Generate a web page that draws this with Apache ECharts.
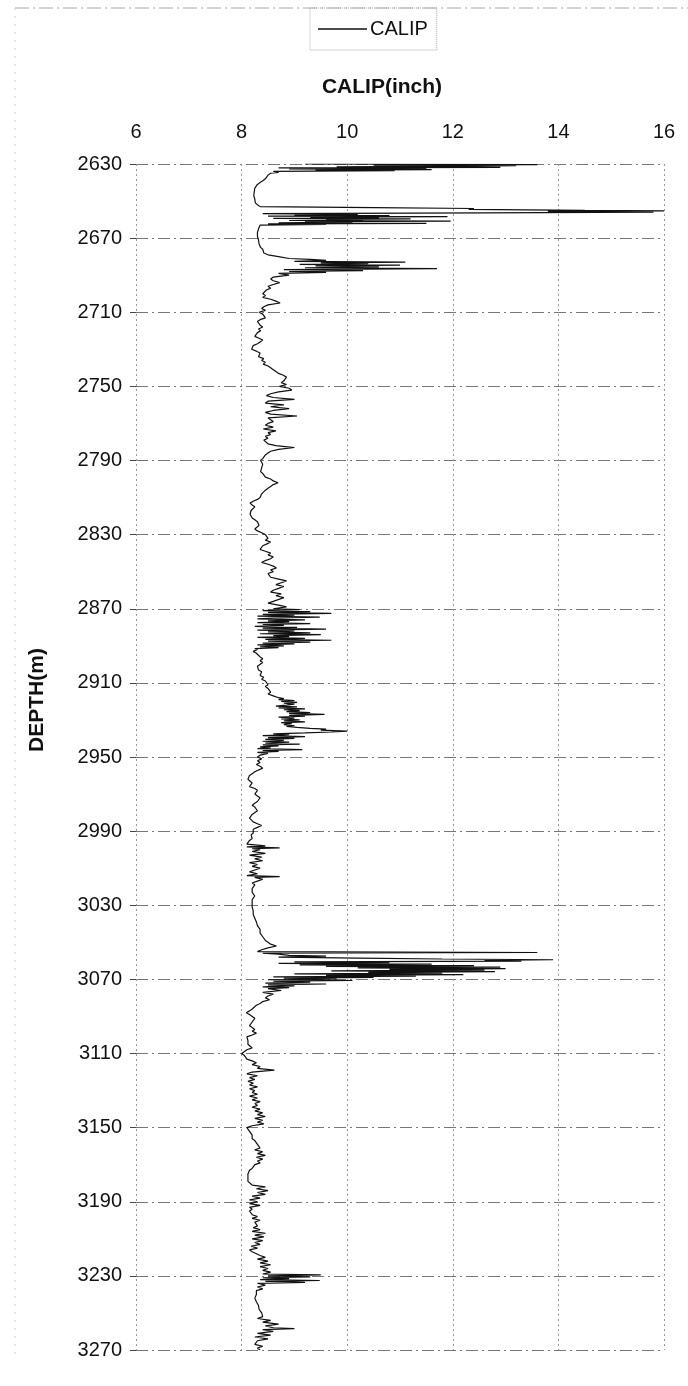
<!DOCTYPE html>
<html>
<head>
<meta charset="utf-8">
<title>CALIP log</title>
<script src="https://cdn.jsdelivr.net/npm/echarts@6/dist/echarts.min.js"></script>
<style>
  html, body { margin: 0; padding: 0; background: #fff; }
  #chart { width: 688px; height: 1386px; }
</style>
</head>
<body>
<div id="chart"></div>
<script>
// caliper readings, [depth(m), CALIP(inch)]
const zoneTop = [
  [2630.0, 9.2], [2630.3, 13.6], [2630.6, 10.5], [2630.9, 13.2], [2631.2, 12.4], [2631.5, 9.8],
  [2631.8, 12.9], [2632.1, 8.7], [2632.4, 11.5], [2632.7, 8.9], [2633.0, 11.6], [2633.3, 9.4],
  [2633.6, 10.9], [2634.0, 8.6], [2634.5, 8.7], [2635, 8.55], [2636, 8.5], [2637, 8.52], [2638, 8.45],
  [2639, 8.4], [2640, 8.35], [2641, 8.3], [2642, 8.28], [2643, 8.25], [2644, 8.22], [2645, 8.24],
  [2646, 8.22], [2647, 8.23], [2648, 8.22], [2649, 8.25], [2650, 8.24], [2651, 8.26], [2652, 8.3],
  [2653, 8.35], [2653.5, 10.5], [2654, 12.4], [2654.5, 12.3], [2655, 14.5], [2655.3, 16.0],
  [2655.6, 13.8], [2656, 15.8], [2656.4, 12.6], [2656.8, 8.4], [2657.2, 10.2], [2657.5, 9.0],
  [2657.8, 10.8], [2658.1, 8.5], [2658.4, 11.9], [2658.7, 9.3], [2659, 10.6], [2659.3, 8.6],
  [2659.6, 11.2], [2659.9, 9.6], [2660.2, 10.3], [2660.5, 8.9], [2660.8, 11.96], [2661.1, 9.2],
  [2661.4, 10.1], [2661.7, 8.7], [2662, 11.5], [2662.3, 8.5], [2662.6, 9.6], [2663, 8.35],
  [2664, 8.35], [2665, 8.32], [2666, 8.3], [2667, 8.3], [2668, 8.28], [2669, 8.3], [2670, 8.3],
  [2671, 8.32], [2672, 8.3], [2673, 8.33], [2674, 8.35], [2675, 8.36], [2676, 8.4], [2677, 8.38],
  [2678, 8.42], [2679, 8.5], [2680, 8.7], [2681, 8.9], [2681.5, 9.3], [2682, 9.6], [2682.5, 9.0],
  [2683, 11.1], [2683.4, 9.5], [2683.8, 10.4], [2684.2, 9.1], [2684.6, 11.0], [2685, 9.4],
  [2685.5, 10.6], [2686, 9.2], [2686.5, 11.7], [2687, 8.8], [2687.5, 10.3], [2688, 8.9],
  [2688.5, 9.6], [2689, 8.7]
];

const zoneUpper = [
  [2690, 8.9], [2691, 8.6], [2692, 8.55], [2693, 8.6], [2694, 8.72], [2695, 8.6], [2696, 8.5],
  [2697, 8.55], [2698, 8.47], [2699, 8.5], [2700, 8.4], [2701, 8.45], [2702, 8.4], [2703, 8.55],
  [2704, 8.65], [2705, 8.73], [2706, 8.5], [2707, 8.42], [2708, 8.38], [2709, 8.45], [2710, 8.33],
  [2711, 8.4], [2712, 8.38], [2713, 8.45], [2714, 8.35], [2715, 8.3], [2716, 8.28], [2717, 8.35],
  [2718, 8.4], [2719, 8.32], [2720, 8.36], [2721, 8.3], [2722, 8.28], [2723, 8.25], [2724, 8.33],
  [2725, 8.4], [2726, 8.35], [2727, 8.3], [2728, 8.22], [2729, 8.2], [2730, 8.19], [2731, 8.28],
  [2732, 8.35], [2733, 8.38], [2734, 8.32], [2735, 8.42], [2736, 8.38], [2737, 8.45], [2738, 8.41],
  [2739, 8.5], [2740, 8.55], [2741, 8.6], [2742, 8.65], [2743, 8.7], [2744, 8.79], [2745, 8.85],
  [2746, 8.88], [2747, 8.8], [2748, 8.75], [2749, 8.85], [2750, 8.72], [2751, 8.9], [2752, 8.95],
  [2753, 8.7], [2754, 8.55], [2755, 8.47], [2756, 8.6], [2757, 9.0], [2758, 8.5], [2759, 8.45],
  [2760, 8.8], [2761, 8.55], [2762, 8.9], [2763, 8.6], [2764, 8.45], [2765, 8.55], [2766, 9.05],
  [2767, 8.5], [2768, 8.55], [2769, 8.6], [2770, 8.5], [2771, 8.45], [2772, 8.6], [2773, 8.41],
  [2774, 8.65], [2775, 8.5], [2776, 8.55], [2777, 8.45], [2778, 8.5], [2779, 8.42], [2780, 8.4],
  [2781, 8.5], [2782, 8.65], [2783, 9.0], [2784, 8.7], [2785, 8.55], [2786, 8.5], [2787, 8.45],
  [2788, 8.43], [2789, 8.4], [2790, 8.36], [2791, 8.35], [2792, 8.4], [2793, 8.42], [2794, 8.38],
  [2795, 8.4], [2796, 8.36], [2797, 8.4], [2798, 8.38], [2799, 8.45], [2800, 8.55], [2801, 8.6],
  [2802, 8.69], [2803, 8.6], [2804, 8.55], [2805, 8.5], [2806, 8.45], [2807, 8.42], [2808, 8.38],
  [2809, 8.41], [2810, 8.35], [2811, 8.3], [2812, 8.22], [2813, 8.16], [2814, 8.2], [2815, 8.25],
  [2816, 8.22], [2817, 8.18], [2818, 8.2], [2819, 8.16], [2820, 8.15], [2821, 8.2], [2822, 8.25],
  [2823, 8.3], [2824, 8.28], [2825, 8.33], [2826, 8.3], [2827, 8.25], [2828, 8.3], [2829, 8.38],
  [2830, 8.45], [2831, 8.47], [2832, 8.5], [2833, 8.45], [2834, 8.55], [2835, 8.48], [2836, 8.4],
  [2837, 8.38], [2838, 8.35], [2839, 8.45], [2840, 8.55], [2841, 8.5], [2842, 8.6], [2843, 8.55],
  [2844, 8.45], [2845, 8.38], [2846, 8.5], [2847, 8.6], [2848, 8.66], [2849, 8.55], [2850, 8.6],
  [2851, 8.5], [2852, 8.47], [2853, 8.55], [2854, 8.7], [2855, 8.85], [2856, 8.75], [2857, 8.65],
  [2858, 8.8], [2859, 8.7], [2860, 8.6], [2861, 8.55], [2862, 8.75], [2863, 8.65], [2864, 8.8],
  [2865, 8.79], [2866, 8.6], [2867, 8.5], [2868, 8.7], [2869, 8.85], [2870, 8.6]
];

const zoneMiddle = [
  [2870.5, 9.1], [2871, 8.4], [2871.5, 9.3], [2872, 8.5], [2872.5, 9.7], [2873, 8.4], [2873.5, 9.0],
  [2874, 8.3], [2874.5, 9.48], [2875, 8.6], [2875.5, 8.3], [2876, 9.2], [2876.5, 8.5], [2877, 8.9],
  [2877.5, 8.3], [2878, 9.3], [2878.5, 8.4], [2879, 8.8], [2879.5, 8.25], [2880, 9.05], [2880.5, 8.4],
  [2881, 9.6], [2881.5, 8.3], [2882, 9.0], [2882.5, 8.5], [2883, 9.3], [2883.5, 8.35], [2884, 9.5],
  [2884.5, 8.6], [2885, 8.9], [2885.5, 8.3], [2886, 9.2], [2886.5, 8.45], [2887, 9.7], [2887.5, 8.5],
  [2888, 9.3], [2888.5, 8.4], [2889, 9.0], [2889.5, 8.3], [2890, 8.8], [2890.5, 8.35], [2891, 8.7],
  [2891.5, 8.25], [2892, 8.3], [2893, 8.22], [2894, 8.28], [2895, 8.3], [2896, 8.35], [2897, 8.4],
  [2898, 8.35], [2899, 8.4], [2900, 8.38], [2901, 8.3], [2902, 8.28], [2903, 8.32], [2904, 8.38],
  [2905, 8.4], [2906, 8.35], [2907, 8.42], [2908, 8.38], [2909, 8.45], [2910, 8.47], [2911, 8.5],
  [2912, 8.45], [2913, 8.5], [2914, 8.47], [2915, 8.55], [2916, 8.5], [2917, 8.6], [2918, 8.7],
  [2918.5, 8.8], [2919, 8.7], [2919.5, 9.0], [2920, 8.75], [2920.5, 9.05], [2921, 8.8], [2921.5, 9.0],
  [2922, 8.85], [2922.5, 8.65], [2923, 9.05], [2923.5, 8.7], [2924, 9.2], [2924.5, 8.8], [2925, 9.1],
  [2925.5, 8.85], [2926, 9.3], [2926.5, 8.9], [2927, 9.57], [2927.5, 8.9], [2928, 9.2], [2928.5, 8.7],
  [2929, 9.0], [2929.5, 8.75], [2930, 9.1], [2930.5, 8.8], [2931, 9.2], [2931.5, 8.75], [2932, 8.95],
  [2932.5, 8.8], [2933, 9.0], [2933.5, 8.85], [2934, 9.05], [2934.5, 9.3], [2935, 9.6], [2935.5, 9.5],
  [2936, 10.0], [2936.5, 9.7], [2937, 9.2], [2937.5, 8.6], [2938, 8.9], [2938.5, 8.4], [2939, 9.2],
  [2939.5, 8.5], [2940, 9.0], [2940.5, 8.45], [2941, 8.8], [2941.5, 8.4], [2942, 8.9], [2942.5, 8.45],
  [2943, 9.1], [2943.5, 8.4], [2944, 8.7], [2944.5, 8.35], [2945, 8.55], [2945.5, 8.3], [2946, 9.15],
  [2946.5, 8.4], [2947, 8.7], [2947.5, 8.3], [2948, 8.5]
];

const zoneLower = [
  [2949, 8.35], [2950, 8.3], [2951, 8.38], [2952, 8.3], [2953, 8.35], [2954, 8.28], [2955, 8.35],
  [2956, 8.4], [2957, 8.4], [2958, 8.25], [2959, 8.2], [2960, 8.15], [2961, 8.18], [2962, 8.12],
  [2963, 8.15], [2964, 8.2], [2965, 8.18], [2966, 8.15], [2967, 8.25], [2968, 8.3], [2969, 8.3],
  [2970, 8.25], [2971, 8.3], [2972, 8.35], [2973, 8.38], [2974, 8.3], [2975, 8.25], [2976, 8.2],
  [2977, 8.25], [2978, 8.28], [2979, 8.3], [2980, 8.28], [2981, 8.2], [2982, 8.18], [2983, 8.15],
  [2984, 8.15], [2985, 8.22], [2986, 8.3], [2987, 8.38], [2988, 8.3], [2989, 8.22], [2990, 8.2],
  [2991, 8.22], [2992, 8.18], [2993, 8.15], [2994, 8.2], [2995, 8.15], [2996, 8.18], [2997, 8.1],
  [2998, 8.45], [2998.5, 8.1], [2999, 8.72], [2999.5, 8.2], [3000, 8.35], [3001, 8.2], [3002, 8.45],
  [3003, 8.15], [3004, 8.38], [3005, 8.25], [3006, 8.4], [3007, 8.15], [3008, 8.3], [3009, 8.2],
  [3010, 8.35], [3011, 8.25], [3012, 8.15], [3013, 8.3], [3014, 8.1], [3014.5, 8.72], [3015, 8.25],
  [3016, 8.4], [3017, 8.3], [3018, 8.2], [3019, 8.25], [3020, 8.22], [3021, 8.2], [3022, 8.18],
  [3023, 8.2], [3024, 8.22], [3025, 8.25], [3026, 8.22], [3027, 8.2], [3028, 8.22], [3029, 8.2],
  [3030, 8.22], [3031, 8.2], [3032, 8.2], [3033, 8.22], [3034, 8.2], [3035, 8.22], [3036, 8.24],
  [3037, 8.25], [3038, 8.25], [3039, 8.28], [3040, 8.3], [3041, 8.3], [3042, 8.33], [3043, 8.35],
  [3044, 8.35], [3045, 8.35], [3046, 8.38], [3047, 8.4], [3048, 8.42], [3049, 8.45], [3050, 8.5],
  [3051, 8.55], [3052, 8.66], [3053, 8.5], [3054, 8.38], [3055, 8.3],
  [3055.5, 13.6], [3055.9, 8.4], [3056.4, 8.7], [3057, 8.9], [3057.5, 9.6], [3058, 8.7], [3058.5, 10.2],
  [3059, 11.8], [3059.4, 13.9], [3059.8, 12.6], [3060.2, 13.3], [3060.6, 9.0], [3061, 10.8],
  [3061.4, 8.7], [3061.8, 11.6], [3062.2, 9.1], [3062.6, 12.4], [3063, 9.6], [3063.4, 12.9],
  [3063.8, 10.2], [3064.2, 13.0], [3064.6, 10.8], [3065, 12.6], [3065.4, 9.7], [3065.8, 12.8],
  [3066.2, 10.4], [3066.6, 11.8], [3067, 9.0], [3067.4, 12.2], [3067.8, 9.6], [3068.2, 11.3],
  [3068.6, 8.6], [3069, 10.5], [3069.4, 8.8], [3069.8, 9.8], [3070.2, 8.5], [3070.6, 10.1],
  [3071, 8.6], [3071.5, 9.3], [3072, 8.45], [3072.5, 9.6], [3073, 8.5], [3073.5, 9.0], [3074, 8.4],
  [3074.5, 8.9], [3075, 8.5], [3076, 8.75], [3077, 8.4]
];

const zoneBottom = [
  [3078, 8.6], [3079, 8.5], [3080, 8.45], [3081, 8.53], [3082, 8.4], [3083, 8.35], [3084, 8.28],
  [3085, 8.3], [3086, 8.2], [3087, 8.15], [3088, 8.09], [3089, 8.15], [3090, 8.2], [3091, 8.25],
  [3092, 8.28], [3093, 8.2], [3094, 8.18], [3095, 8.15], [3096, 8.2], [3097, 8.25], [3098, 8.2],
  [3099, 8.28], [3100, 8.2], [3101, 8.1], [3102, 8.09], [3103, 8.12], [3104, 8.15], [3105, 8.12],
  [3106, 8.15], [3107, 8.2], [3108, 8.1], [3109, 8.05], [3110, 8.0], [3111, 8.05], [3112, 8.02],
  [3113, 8.1], [3114, 8.2], [3115, 8.28], [3116, 8.2], [3117, 8.35], [3118, 8.3], [3119, 8.62],
  [3120, 8.2], [3121, 8.1], [3122, 8.3], [3123, 8.15], [3124, 8.25], [3125, 8.12], [3126, 8.22],
  [3127, 8.15], [3128, 8.3], [3129, 8.15], [3130, 8.25], [3131, 8.2], [3132, 8.3], [3133, 8.15],
  [3134, 8.3], [3135, 8.2], [3136, 8.35], [3137, 8.25], [3138, 8.3], [3139, 8.2], [3140, 8.35],
  [3141, 8.25], [3142, 8.4], [3143, 8.3], [3144, 8.45], [3145, 8.25], [3146, 8.4], [3147, 8.3],
  [3148, 8.42], [3149, 8.2], [3150, 8.1], [3151, 8.12], [3152, 8.15], [3153, 8.12], [3154, 8.2],
  [3155, 8.22], [3156, 8.2], [3157, 8.25], [3158, 8.28], [3159, 8.3], [3160, 8.3], [3161, 8.35],
  [3162, 8.25], [3163, 8.4], [3164, 8.3], [3165, 8.45], [3166, 8.28], [3167, 8.4], [3168, 8.3],
  [3169, 8.35], [3170, 8.25], [3171, 8.25], [3172, 8.2], [3173, 8.15], [3174, 8.15], [3175, 8.12],
  [3176, 8.14], [3177, 8.12], [3178, 8.15], [3179, 8.12], [3180, 8.13], [3181, 8.2], [3182, 8.45],
  [3183, 8.28], [3184, 8.5], [3185, 8.3], [3186, 8.45], [3187, 8.2], [3188, 8.35], [3189, 8.15],
  [3190, 8.3], [3191, 8.15], [3192, 8.35], [3193, 8.15], [3194, 8.2], [3195, 8.15], [3196, 8.18],
  [3197, 8.2], [3198, 8.3], [3199, 8.2], [3200, 8.35], [3201, 8.25], [3202, 8.28], [3203, 8.3],
  [3204, 8.22], [3205, 8.35], [3206, 8.2], [3207, 8.45], [3208, 8.25], [3209, 8.42], [3210, 8.2],
  [3211, 8.4], [3212, 8.25], [3213, 8.35], [3214, 8.18], [3215, 8.3], [3216, 8.15], [3217, 8.2],
  [3218, 8.18], [3219, 8.35], [3220, 8.45], [3221, 8.3], [3222, 8.5], [3223, 8.35], [3224, 8.55],
  [3225, 8.35], [3226, 8.5], [3227, 8.4], [3228, 8.55], [3229, 8.4], [3229.5, 9.5], [3230, 8.5],
  [3230.5, 9.3], [3231, 8.4], [3231.5, 8.9], [3232, 8.35], [3232.5, 9.48], [3233, 8.45],
  [3233.5, 9.2], [3234, 8.3], [3235, 8.45], [3236, 8.3], [3237, 8.4], [3238, 8.28], [3239, 8.3],
  [3240, 8.28], [3241, 8.3], [3242, 8.25], [3243, 8.25], [3244, 8.28], [3245, 8.3], [3246, 8.32],
  [3247, 8.35], [3248, 8.33], [3249, 8.35], [3250, 8.38], [3251, 8.35], [3252, 8.4], [3253, 8.3],
  [3254, 8.55], [3255, 8.4], [3256, 8.7], [3257, 8.45], [3258, 8.6], [3258.5, 9.0], [3259, 8.4],
  [3260, 8.6], [3261, 8.3], [3262, 8.55], [3263, 8.25], [3264, 8.5], [3265, 8.3], [3266, 8.28],
  [3267, 8.25], [3268, 8.4], [3269, 8.3], [3270, 8.35]
];

const calipAxis = { min: 6, max: 16, step: 2 };
const depthAxis = { min: 2630, max: 3270, step: 40 };

// echarts wants [x, y] so flip to [calip, depth]
const calipSeries = [].concat(zoneTop, zoneUpper, zoneMiddle, zoneLower, zoneBottom)
  .map(p => [p[1], p[0]]);

const labelFont = 'Liberation Sans, Arial, sans-serif';

const chart = echarts.init(document.getElementById('chart'), null, { renderer: 'canvas' });

chart.setOption({
  animation: false,
  backgroundColor: '#fff',
  graphic: [
    // faint frame of the original sheet
    {
      type: 'line', shape: { x1: 15, y1: 8, x2: 688, y2: 8 },
      style: { stroke: '#aaa', lineWidth: 1, lineDash: [14, 4, 2, 4] }
    },
    {
      type: 'line', shape: { x1: 15, y1: 8, x2: 15, y2: 1360 },
      style: { stroke: '#ccc', lineWidth: 1, lineDash: [2, 6] }
    },
    // depth title sits above the plot middle in the original, so place it by hand
    {
      type: 'text',
      x: 37,
      y: 700,
      rotation: Math.PI / 2,
      style: {
        text: 'DEPTH(m)',
        fontFamily: labelFont,
        fontSize: 21,
        fontWeight: 'bold',
        fill: '#111',
        align: 'center',
        verticalAlign: 'middle'
      }
    }
  ],
  legend: {
    data: ['CALIP'],
    left: 310,
    top: 8,
    icon: 'rect',
    itemWidth: 49,
    itemHeight: 1.5,
    itemGap: 6,
    padding: [11, 9, 11, 8],
    borderColor: '#aaa',
    borderWidth: 1,
    borderType: 'dotted',
    textStyle: { fontFamily: labelFont, fontSize: 20, color: '#111', padding: [0, 0, 0, -2] }
  },
  grid: { left: 136, right: 24, top: 164, bottom: 36 },
  xAxis: {
    type: 'value',
    position: 'top',
    min: calipAxis.min,
    max: calipAxis.max,
    interval: calipAxis.step,
    name: 'CALIP(inch)',
    nameLocation: 'middle',
    nameGap: 66,
    nameTextStyle: { fontFamily: labelFont, fontSize: 21, fontWeight: 'bold', color: '#111', padding: [0, 36, 0, 0] },
    axisLine: { show: false },
    axisTick: { show: false },
    axisLabel: { fontFamily: labelFont, fontSize: 20, color: '#111', margin: 22 },
    splitLine: { show: true, lineStyle: { color: '#999', width: 1, type: [2, 3] } }
  },
  yAxis: {
    type: 'value',
    inverse: true,
    min: depthAxis.min,
    max: depthAxis.max,
    interval: depthAxis.step,
    axisLine: { show: false },
    axisTick: { show: true, length: 6, lineStyle: { color: '#444' } },
    axisLabel: {
      fontFamily: labelFont, fontSize: 20, color: '#111', margin: 14,
      formatter: v => String(v)
    },
    splitLine: { show: true, lineStyle: { color: '#777', width: 1, type: [12, 4, 2, 4] } }
  },
  series: [{
    name: 'CALIP',
    type: 'line',
    data: calipSeries,
    showSymbol: false,
    symbol: 'none',
    clip: true,
    lineStyle: { color: '#111', width: 1.2 },
    itemStyle: { color: '#111' }
  }]
});
</script>
</body>
</html>
